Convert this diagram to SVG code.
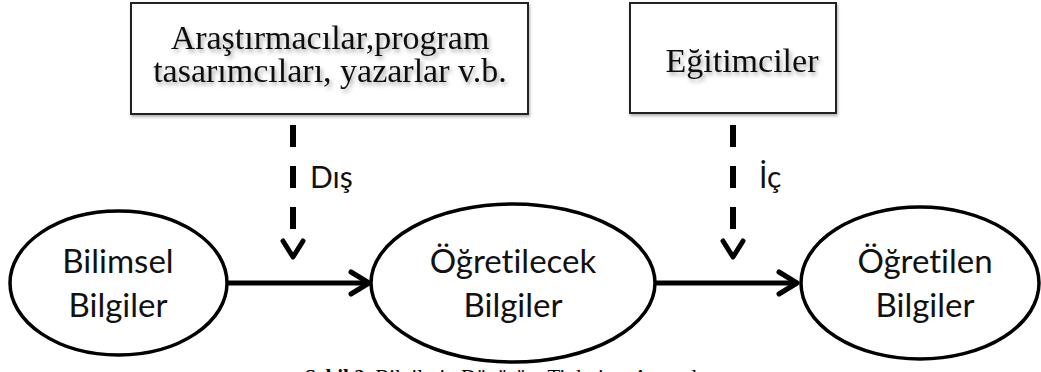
<svg xmlns="http://www.w3.org/2000/svg" width="1041" height="372" viewBox="0 0 1041 372">
<style>
.box{fill:#fff;stroke:#222;stroke-width:2}
.serif{font-family:"Liberation Serif","Times New Roman",serif;font-size:34px;fill:#111;text-anchor:middle}
.sans{font-family:Lato,"Liberation Sans",sans-serif;font-size:33px;fill:#111;text-anchor:middle;font-variant-ligatures:none}
.lbl{font-family:Lato,"Liberation Sans",sans-serif;font-size:30px;fill:#111;font-variant-ligatures:none}
.ell{fill:#fff;stroke:#000;stroke-width:3.5}
.solid{fill:none;stroke:#000;stroke-width:5}
.dash{fill:none;stroke:#000;stroke-width:6;stroke-dasharray:22 19}
.head{fill:none;stroke:#000;stroke-width:5;stroke-linecap:round;stroke-linejoin:round}
.cap{font-family:"Liberation Serif","Times New Roman",serif;font-size:21px;fill:#000;text-anchor:middle}
</style>
<defs>
<filter id="sh" x="-10%" y="-10%" width="130%" height="140%">
<feDropShadow dx="2" dy="3" stdDeviation="2" flood-color="#000" flood-opacity="0.35"/>
</filter>
<filter id="bsh" x="-5%" y="-5%" width="110%" height="115%">
<feDropShadow dx="1" dy="2" stdDeviation="1.5" flood-color="#000" flood-opacity="0.3"/>
</filter>
</defs>
<rect width="1041" height="372" fill="#fff"/>
<g id="box-arastirmacilar">
<rect class="box" x="131" y="3" width="397" height="111" filter="url(#bsh)"/>
<text class="serif" filter="url(#sh)"><tspan x="330" y="49">Araştırmacılar,program</tspan><tspan x="330" y="82">tasarımcıları, yazarlar v.b.</tspan></text>
</g>
<g id="box-egitimciler">
<rect class="box" x="630" y="3" width="206" height="110" filter="url(#bsh)"/>
<text class="serif" x="742" y="72" font-size="35" filter="url(#sh)">Eğitimciler</text>
</g>
<g id="node-bilimsel">
<ellipse class="ell" cx="118.5" cy="283" rx="108.5" ry="72"/>
<text class="sans"><tspan x="118" y="273">Bilimsel</tspan><tspan x="118" y="317">Bilgiler</tspan></text>
</g>
<g id="node-ogretilecek">
<ellipse class="ell" cx="513" cy="283" rx="142" ry="79"/>
<text class="sans"><tspan x="513" y="273">Öğretilecek</tspan><tspan x="513" y="317">Bilgiler</tspan></text>
</g>
<g id="node-ogretilen">
<ellipse class="ell" cx="920" cy="283" rx="119" ry="76"/>
<text class="sans"><tspan x="925" y="273">Öğretilen</tspan><tspan x="925" y="317">Bilgiler</tspan></text>
</g>
<g id="connectors">
<line class="solid" x1="227" y1="283" x2="368" y2="283"/>
<polyline class="head" points="351,272 369,283 351,294"/>
<line class="solid" x1="655" y1="283" x2="796" y2="283"/>
<polyline class="head" points="779,272 797,283 779,294"/>
<line class="dash" x1="293" y1="125" x2="293" y2="230"/>
<polyline class="head" points="283,241 293,257 303,241"/>
<text class="lbl" x="310" y="188">Dış</text>
<line class="dash" x1="733" y1="125" x2="733" y2="230"/>
<polyline class="head" points="723,241 733,257 743,241"/>
<text class="lbl" x="759" y="188">İç</text>
</g>
<text class="cap" x="512" y="384"><tspan font-weight="bold">Şekil 2.</tspan> Bilgilerin Dönüşüm Tipleri ve Aşamaları</text>
</svg>
